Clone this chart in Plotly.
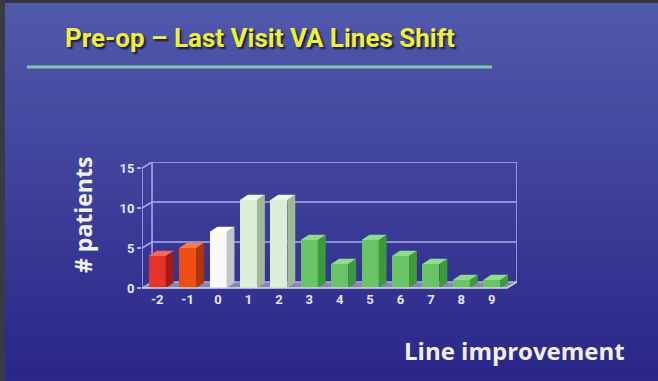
import plotly.graph_objects as go

# ---------------- data ----------------
categories = [-2, -1, 0, 1, 2, 3, 4, 5, 6, 7, 8, 9]
tick_labels = ["-2", "-1", "0", "1", "2", "3", "4", "5", "6", "7", "8", "9"]
patients = [4, 5, 7, 11, 11, 6, 3, 6, 4, 3, 1, 1]
y_ticks = [0, 5, 10, 15]

# ---------------- style ----------------
W, H = 658, 381
PL, PR, PT, PB = 142, 517, 162, 290  # plot area in pixels
XR = [-2.5, 9.83]
YR = [-0.25, 15.75]
WALL_DX, WALL_DY = 0.33, 0.75   # depth of the 3-D box in data units
BAR_W = 0.56
BAR_DX, BAR_DY = 0.26, 0.65

front_cols, side_cols, top_cols = [], [], []
for c in categories:
    if c == -2:
        f, s, t = "#e8332c", "#a31a18", "#f26a5e"
    elif c == -1:
        f, s, t = "#f04d12", "#b0330a", "#f77a48"
    elif c == 0:
        f, s, t = "#fafafa", "#c4c4cc", "#ffffff"
    elif c in (1, 2):
        f, s, t = "#dcefd6", "#9fb898", "#eef8ea"
    else:
        f, s, t = "#69c466", "#3c9a3c", "#8fdc8c"
    front_cols.append(f); side_cols.append(s); top_cols.append(t)

LINE_COL = "#aab0ec"
TICK_COL = "#e4e4f4"
FONT = "Roboto, Liberation Sans, sans-serif"


def px2paper_x(px):
    return (px - PL) / (PR - PL)


def px2paper_y(py):
    return (PB - py) / (PB - PT)


fig = go.Figure()

# front faces
fig.add_trace(go.Bar(
    x=categories, y=patients, width=BAR_W, base=0,
    marker=dict(color=front_cols, line=dict(width=0)),
    hoverinfo="x+y", showlegend=False,
))

# side and top faces (computed from the data values)
for c, v, s, t in zip(categories, patients, side_cols, top_cols):
    xr = c + BAR_W / 2
    xl = c - BAR_W / 2
    fig.add_trace(go.Scatter(
        x=[xr, xr + BAR_DX, xr + BAR_DX, xr, xr],
        y=[0, BAR_DY, v + BAR_DY, v, 0],
        fill="toself", fillcolor=s, mode="lines", line=dict(width=0, color=s),
        hoverinfo="skip", showlegend=False,
    ))
    fig.add_trace(go.Scatter(
        x=[xl, xr, xr + BAR_DX, xl + BAR_DX, xl],
        y=[v, v, v + BAR_DY, v + BAR_DY, v],
        fill="toself", fillcolor=t, mode="lines", line=dict(width=0, color=t),
        hoverinfo="skip", showlegend=False,
    ))

shapes = []
# background gradient
N = 60
top_rgb = (0x52, 0x5a, 0xac)
bot_rgb = (0x2b, 0x27, 0x88)
for i in range(N):
    f = i / (N - 1)
    r = int(top_rgb[0] + (bot_rgb[0] - top_rgb[0]) * f)
    g = int(top_rgb[1] + (bot_rgb[1] - top_rgb[1]) * f)
    b = int(top_rgb[2] + (bot_rgb[2] - top_rgb[2]) * f)
    y0 = H * i / N
    y1 = H * (i + 1) / N + 1
    shapes.append(dict(type="rect", xref="paper", yref="paper", layer="below",
                       x0=px2paper_x(0), x1=px2paper_x(W),
                       y0=px2paper_y(y1), y1=px2paper_y(y0),
                       fillcolor=f"rgb({r},{g},{b})", line=dict(width=0)))
# dark frame on top and left
shapes.append(dict(type="rect", xref="paper", yref="paper", layer="below",
                   x0=px2paper_x(0), x1=px2paper_x(W), y0=px2paper_y(3), y1=px2paper_y(0),
                   fillcolor="#34343e", line=dict(width=0)))
shapes.append(dict(type="rect", xref="paper", yref="paper", layer="below",
                   x0=px2paper_x(0), x1=px2paper_x(5), y0=px2paper_y(H), y1=px2paper_y(0),
                   fillcolor="#3a3a44", line=dict(width=0)))
# title underline
shapes.append(dict(type="line", xref="paper", yref="paper", layer="below",
                   x0=px2paper_x(27), x1=px2paper_x(492), y0=px2paper_y(67), y1=px2paper_y(67),
                   line=dict(color="#80c9a2", width=3)))

# floor
x0b, x1b = XR[0] + WALL_DX, 9.5 + WALL_DX
shapes.append(dict(type="path", xref="x", yref="y", layer="below",
                   path=f"M {XR[0]} 0 L 9.5 0 L {x1b} {WALL_DY} L {x0b} {WALL_DY} Z",
                   fillcolor="rgba(205,205,200,0.55)", line=dict(width=0)))
# back wall gridlines and connectors
for v in y_ticks:
    shapes.append(dict(type="line", xref="x", yref="y", layer="below",
                       x0=x0b, x1=x1b, y0=v + WALL_DY, y1=v + WALL_DY,
                       line=dict(color=LINE_COL, width=1.5)))
    shapes.append(dict(type="line", xref="x", yref="y", layer="below",
                       x0=XR[0], x1=x0b, y0=v, y1=v + WALL_DY,
                       line=dict(color=LINE_COL, width=1.5)))
for xx in (x0b, x1b):
    shapes.append(dict(type="line", xref="x", yref="y", layer="below",
                       x0=xx, x1=xx, y0=WALL_DY, y1=15 + WALL_DY,
                       line=dict(color=LINE_COL, width=1.5)))
shapes.append(dict(type="line", xref="x", yref="y", layer="below",
                   x0=XR[0], x1=XR[0], y0=0, y1=15,
                   line=dict(color=LINE_COL, width=1.5)))
shapes.append(dict(type="line", xref="x", yref="y", layer="above",
                   x0=XR[0], x1=9.5, y0=0, y1=0,
                   line=dict(color="#d8d8e8", width=1.5)))
shapes.append(dict(type="line", xref="x", yref="y", layer="above",
                   x0=9.5, x1=x1b, y0=0, y1=WALL_DY,
                   line=dict(color="#d8d8e8", width=1.5)))

annotations = [
    dict(text="Pre-op – Last Visit VA Lines Shift", xref="paper", yref="paper",
         x=px2paper_x(260), y=px2paper_y(38), xanchor="center", yanchor="middle",
         showarrow=False,
         font=dict(family=FONT, size=26, color="#eef03c", weight="bold",
                   shadow="2px 2px 2px #1a1a30")),
    dict(text="# patients", xref="paper", yref="paper",
         x=px2paper_x(83), y=px2paper_y(215), xanchor="center", yanchor="middle",
         textangle=-90, showarrow=False,
         font=dict(family="Open Sans, sans-serif", size=23, color="#f2f2fa", weight="bold")),
    dict(text="Line improvement", xref="paper", yref="paper",
         x=px2paper_x(514), y=px2paper_y(350), xanchor="center", yanchor="middle",
         showarrow=False,
         font=dict(family="Open Sans, sans-serif", size=24, color="#f2f2fa", weight="bold")),
]

fig.update_layout(
    width=W, height=H,
    margin=dict(l=PL, r=W - PR, t=PT, b=H - PB, pad=0),
    paper_bgcolor="#3a3a98", plot_bgcolor="rgba(0,0,0,0)",
    shapes=shapes, annotations=annotations,
    showlegend=False, bargap=0,
    xaxis=dict(range=XR, tickvals=categories, ticktext=tick_labels,
               showgrid=False, zeroline=False, showline=False, ticks="",
               tickfont=dict(family=FONT, size=13, color=TICK_COL, weight="bold"),
               fixedrange=True),
    yaxis=dict(range=YR, tickvals=y_ticks, ticktext=[str(v) for v in y_ticks],
               showgrid=False, zeroline=False, showline=False,
               ticks="outside", ticklen=4, tickcolor=LINE_COL, tickwidth=1.5,
               tickfont=dict(family=FONT, size=13, color=TICK_COL, weight="bold"),
               fixedrange=True),
)

fig.write_html("out.html")
